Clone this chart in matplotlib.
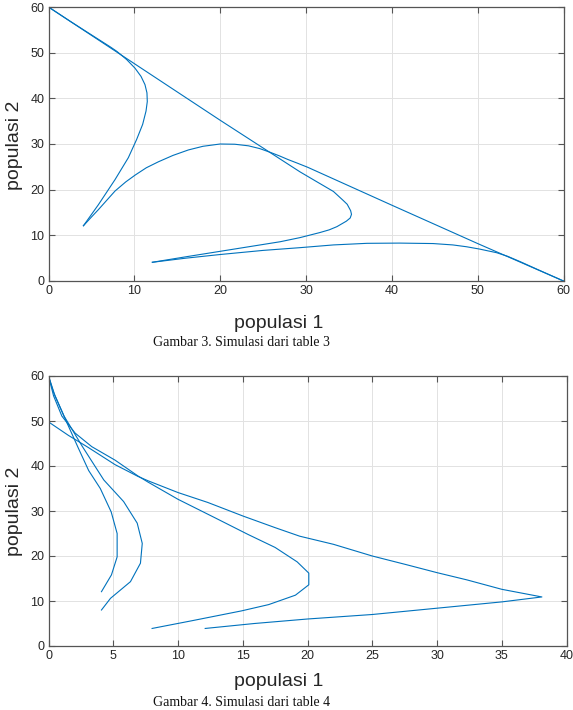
import matplotlib
matplotlib.use('Agg')
import matplotlib.pyplot as plt

plt.rcParams['font.family'] = ['Liberation Sans', 'DejaVu Sans']

# ---------------- Gambar 3 (table 3) ----------------
g3_x_ticks = [0, 10, 20, 30, 40, 50, 60]
g3_y_ticks = [0, 10, 20, 30, 40, 50, 60]

# trajectory from (12,4) through the tip near (35,14) to (0,60)
g3_t1_x = [12.1, 16, 20, 24, 27, 29.3, 31.6, 32.7, 33.6, 34.7, 35.15, 35.3, 35.2, 34.8, 34.3, 33.2, 31.2, 29.3, 20.0, 10.0, 0]
g3_t1_y = [4.1, 5.3, 6.5, 7.7, 8.6, 9.5, 10.6, 11.2, 11.9, 13.1, 13.8, 14.6, 15.4, 16.8, 17.7, 19.6, 21.8, 23.9, 35.2, 47.6, 60]

# trajectory from (4,12) arcing over (20,30) to (60,0)
g3_t2_x = [4.07, 5.0, 5.8, 7.75, 9.0, 10.1, 11.4, 12.8, 14.5, 16.3, 18.0, 20, 21.7, 23.3, 24.6, 25.8, 26.9, 27.9, 29.0, 30.2, 40, 50, 60]
g3_t2_y = [12.1, 14.0, 15.6, 19.7, 21.7, 23.2, 24.8, 26.1, 27.5, 28.7, 29.5, 30, 29.95, 29.6, 29.0, 28.2, 27.4, 26.6, 25.8, 24.9, 16.6, 8.2, 0]

# trajectory from (4,12) up to (0,60)
g3_t3_x = [4.07, 5.81, 7.75, 9.3, 10.27, 10.97, 11.36, 11.51, 11.47, 11.24, 10.78, 10.08, 9.1, 7.95, 7.17, 5, 2.5, 0]
g3_t3_y = [12.1, 16.7, 22.2, 27.0, 31.0, 34.3, 37.2, 39.3, 41.2, 43.0, 44.8, 46.6, 48.5, 50.3, 51.3, 53.9, 56.9, 60]

# trajectory from (12,4) along the bottom to (60,0)
g3_t4_x = [12.1, 16, 20, 25, 29.3, 33.2, 37.1, 40.9, 44.8, 47.1, 48.7, 50.2, 52.2, 53.5, 55, 57, 60]
g3_t4_y = [4.1, 5.0, 5.8, 6.7, 7.3, 7.9, 8.25, 8.3, 8.2, 7.9, 7.5, 7.0, 6.2, 5.4, 4.2, 2.5, 0]

# ---------------- Gambar 4 (table 4) ----------------
g4_x_ticks = [0, 5, 10, 15, 20, 25, 30, 35, 40]
g4_y_ticks = [0, 10, 20, 30, 40, 50, 60]

g4_t1_x = [4.09, 4.86, 5.3, 5.3, 4.84, 4.0, 3.1, 2.3, 1.3, 0.5, 0]
g4_t1_y = [12.07, 15.8, 19.8, 25.0, 29.8, 35.0, 39.0, 44.0, 50.4, 55.6, 60]

g4_t2_x = [4.09, 4.79, 6.33, 7.1, 7.24, 6.85, 5.8, 4.27, 2.6, 1.2, 0.4, 0]
g4_t2_y = [8.0, 10.6, 14.3, 18.4, 22.8, 27.3, 32.1, 36.9, 44.4, 51.1, 56.3, 60]

g4_t3_x = [8.0, 11.05, 14.9, 17.0, 19.07, 20.1, 20.1, 19.2, 17.5, 15.4, 12.85, 10.0, 7.7, 6.9, 5.14, 3.34, 2.06, 1.03, 0.39, 0]
g4_t3_y = [3.9, 5.6, 7.8, 9.2, 11.3, 13.6, 16.2, 18.7, 21.9, 24.8, 28.5, 32.6, 36.4, 37.8, 41.3, 44.3, 47.3, 51.1, 55.6, 60]

g4_t4_x = [12.1, 15.9, 20, 25, 30, 35, 38.1, 35, 32.3, 30, 27.6, 25, 22, 19.4, 17.5, 15, 12.3, 10, 7.7, 6.9, 5.14, 3.08, 1.54, 0]
g4_t4_y = [3.9, 5.0, 6.0, 7.0, 8.4, 9.8, 10.9, 12.6, 14.7, 16.3, 18.1, 20, 22.6, 24.4, 26.3, 28.9, 31.9, 34.1, 36.7, 37.7, 40.3, 44.1, 46.8, 49.8]

x_label = 'populasi 1'
y_label = 'populasi 2'
caption3 = 'Gambar 3. Simulasi dari table 3'
caption4 = 'Gambar 4. Simulasi dari table 4'

LINE = '#0072BD'
W, H = 573, 710

fig = plt.figure(figsize=(W / 100, H / 100), dpi=100)
ax1 = fig.add_axes([48.5 / W, 1 - 281 / H, (563.5 - 48.5) / W, (281 - 7) / H])
ax2 = fig.add_axes([48.5 / W, 1 - 646 / H, (566.5 - 48.5) / W, (646 - 376) / H])


def style(ax, xticks, yticks):
    ax.set_xlim(xticks[0], xticks[-1])
    ax.set_ylim(yticks[0], yticks[-1])
    ax.set_xticks(xticks)
    ax.set_yticks(yticks)
    ax.grid(True, color='#e2e2e2', lw=0.7)
    ax.set_axisbelow(True)
    ax.tick_params(direction='in', length=4, width=0.8, top=True, right=True,
                   labelsize=9, color='#555555', labelcolor='#262626')
    ax.tick_params(axis='x', pad=3)
    ax.tick_params(axis='y', pad=3)
    for s in ax.spines.values():
        s.set_color('#555555')
        s.set_linewidth(0.9)


for xs, ys in [(g3_t1_x, g3_t1_y), (g3_t2_x, g3_t2_y), (g3_t3_x, g3_t3_y), (g3_t4_x, g3_t4_y)]:
    ax1.plot(xs, ys, color=LINE, lw=0.8)
style(ax1, g3_x_ticks, g3_y_ticks)

for xs, ys in [(g4_t1_x, g4_t1_y), (g4_t2_x, g4_t2_y), (g4_t3_x, g4_t3_y), (g4_t4_x, g4_t4_y)]:
    ax2.plot(xs, ys, color=LINE, lw=0.8)
style(ax2, g4_x_ticks, g4_y_ticks)

# axis labels and captions
fig.text(278.5 / W, 1 - 323 / H, x_label, size=14, color='#262626', ha='center', va='center')
fig.text(15 / W, 1 - 145 / H, y_label, size=14, color='#262626', rotation=90, ha='center', va='center')
fig.text(241.5 / W, 1 - 343 / H, caption3, family='Liberation Serif', size=10, color='#111111',
         ha='center', va='center')

fig.text(278.5 / W, 1 - 681 / H, x_label, size=14, color='#262626', ha='center', va='center')
fig.text(15 / W, 1 - 511 / H, y_label, size=14, color='#262626', rotation=90, ha='center', va='center')
fig.text(241.5 / W, 1 - 702 / H, caption4, family='Liberation Serif', size=10, color='#111111',
         ha='center', va='center')

fig.savefig('out.png', dpi=100)
